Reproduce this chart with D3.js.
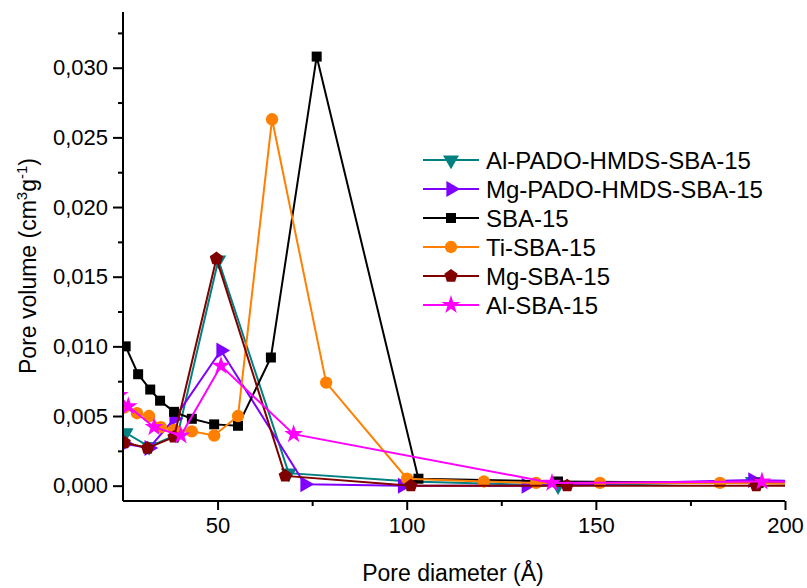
<!DOCTYPE html>
<html>
<head>
<meta charset="utf-8">
<script src="https://cdn.jsdelivr.net/npm/d3@7"></script>
<style>
  body { margin: 0; background: #fff; }
  svg { font-family: "Liberation Sans", Arial, sans-serif; }
</style>
</head>
<body>
<svg width="807" height="588"></svg>
<script>
// pore diameter (Å) / pore volume (cm3 g-1)
const alPadoX = [25.7, 31.9, 39.5, 50.2, 68.8, 101, 140, 191.5, 230];
const alPadoY = [0.0038, 0.0028, 0.0037, 0.0162, 0.0009, 0.0003, 0.0000, 0.0003, 0.0002];

const mgPadoX = [25.5, 31.9, 38.5, 50.9, 73.1, 98.9, 131.6, 191.5, 230];
const mgPadoY = [0.0030, 0.0027, 0.0048, 0.0097, 0.0001, 0.0000, 0.0000, 0.0004, 0.0002];

const sbaX = [25.7, 29.0, 32.2, 34.8, 38.5, 43.2, 49.1, 55.4, 64.1, 76.2, 103.1, 140, 193, 230];
const sbaY = [0.0100, 0.0080, 0.0069, 0.0061, 0.0053, 0.0048, 0.0044, 0.0043, 0.0092, 0.0308, 0.0005, 0.0003, 0.0002, 0.0001];

const tiX = [25.3, 28.7, 31.9, 35.0, 38.5, 43.2, 49.1, 55.4, 64.4, 78.7, 100.1, 120.4, 134.2, 151.1, 182.8, 230];
const tiY = [0.0056, 0.0052, 0.0050, 0.0042, 0.0040, 0.0039, 0.0036, 0.0050, 0.0263, 0.0074, 0.0005, 0.0003, 0.0002, 0.0002, 0.0002, 0.0001];

const mgX = [25.3, 31.5, 38.5, 49.7, 67.9, 101.1, 142.4, 192.4, 230];
const mgY = [0.0031, 0.0027, 0.0035, 0.0163, 0.0007, 0.0000, 0.0000, 0.0000, 0.0000];

const alX = [24, 26.4, 33.2, 40.3, 50.9, 70.1, 138.4, 193.9, 230];
const alY = [0.0065, 0.0057, 0.0042, 0.0036, 0.0086, 0.0037, 0.0002, 0.0003, 0.0002];

const seriesNames = ["Al-PADO-HMDS-SBA-15", "Mg-PADO-HMDS-SBA-15", "SBA-15", "Ti-SBA-15", "Mg-SBA-15", "Al-SBA-15"];
const seriesColors = ["#008080", "#8000ff", "#000000", "#ff8000", "#800000", "#ff00ff"];
const seriesXs = [alPadoX, mgPadoX, sbaX, tiX, mgX, alX];
const seriesYs = [alPadoY, mgPadoY, sbaY, tiY, mgY, alY];

const xTicks = [50, 100, 150, 200];
const yTicks = [0, 0.005, 0.010, 0.015, 0.020, 0.025, 0.030];

const svg = d3.select("svg");
const mLeft = 123, mRight = 785, mTop = 12, mBottom = 501;

const x = d3.scaleLinear().domain([25, 200]).range([mLeft, mRight]);
const y = d3.scaleLinear().domain([-0.0011, 0.0340]).range([mBottom, mTop]);

// symbols
const tri = d3.symbol().type(d3.symbolTriangle).size(110);
function markerPath(i) {
  if (i === 0) return tri();
  if (i === 1) return tri();
  if (i === 2) return d3.symbol().type(d3.symbolSquare).size(100)();
  if (i === 3) return d3.symbol().type(d3.symbolCircle).size(120)();
  if (i === 4) {
    const r = 7;
    return d3.range(5).map(k => {
      const a = -Math.PI / 2 + k * 2 * Math.PI / 5;
      return (k ? "L" : "M") + (r * Math.cos(a)).toFixed(2) + "," + (r * Math.sin(a)).toFixed(2);
    }).join("") + "Z";
  }
  return d3.symbol().type(d3.symbolStar).size(110)();
}
function markerRot(i) {
  if (i === 0) return 180;
  if (i === 1) return 90;
  return 0;
}

svg.append("clipPath").attr("id", "clip")
  .append("rect").attr("x", mLeft).attr("y", mTop).attr("width", mRight - mLeft).attr("height", mBottom - mTop);

const plot = svg.append("g").attr("clip-path", "url(#clip)");
const line = d3.line().x(d => x(d[0])).y(d => y(d[1]));

seriesNames.forEach((name, i) => {
  const pts = seriesXs[i].map((v, k) => [v, seriesYs[i][k]]);
  const g = plot.append("g");
  g.append("path").datum(pts)
    .attr("d", line).attr("fill", "none")
    .attr("stroke", seriesColors[i]).attr("stroke-width", 2);
  g.selectAll("path.m").data(pts).enter().append("path")
    .attr("class", "m")
    .attr("d", markerPath(i))
    .attr("transform", d => `translate(${x(d[0])},${y(d[1])}) rotate(${markerRot(i)})`)
    .attr("fill", seriesColors[i]);
});

// axes
const fmt = d => d3.format(".3f")(d).replace(".", ",");
const xAxis = svg.append("g").attr("transform", `translate(0,${mBottom})`)
  .call(d3.axisBottom(x).tickValues(xTicks).tickSize(9).tickPadding(7));
svg.append("g").attr("transform", `translate(0,${mBottom})`)
  .call(d3.axisBottom(x).tickValues([75, 125, 175]).tickSize(5).tickFormat(""))
  .select(".domain").remove();

const yAxis = svg.append("g").attr("transform", `translate(${mLeft},0)`)
  .call(d3.axisLeft(y).tickValues(yTicks).tickSize(10).tickPadding(5).tickFormat(fmt));
svg.append("g").attr("transform", `translate(${mLeft},0)`)
  .call(d3.axisLeft(y).tickValues([0.0025, 0.0075, 0.0125, 0.0175, 0.0225, 0.0275, 0.0325]).tickSize(5).tickFormat(""))
  .select(".domain").remove();

svg.selectAll(".domain").attr("stroke-width", 2);
svg.selectAll(".tick line").attr("stroke-width", 2);
svg.selectAll(".tick text").attr("font-size", 22).attr("fill", "#000")
  .attr("font-family", "Liberation Sans, Arial, sans-serif");
xAxis.selectAll(".domain").attr("d", `M${mLeft},0H${mRight}`);
yAxis.selectAll(".domain").attr("d", `M0,${mBottom}V${mTop}`);

// axis titles
svg.append("text").attr("x", 453).attr("y", 581).attr("text-anchor", "middle")
  .attr("font-size", 23).text("Pore diameter (Å)");

const yl = svg.append("text").attr("transform", "translate(36,266) rotate(-90)")
  .attr("text-anchor", "middle").attr("font-size", 23);
yl.append("tspan").text("Pore volume (cm");
yl.append("tspan").attr("dy", -9).attr("font-size", 15).text("3");
yl.append("tspan").attr("dy", 9).text("g");
yl.append("tspan").attr("dy", -9).attr("font-size", 15).text("-1");
yl.append("tspan").attr("dy", 9).text(")");

// legend
const legend = svg.append("g").attr("transform", "translate(423,160)");
seriesNames.forEach((name, i) => {
  const row = legend.append("g").attr("transform", `translate(0,${i * 29})`);
  row.append("line").attr("x1", 0).attr("x2", 56).attr("y1", 0).attr("y2", 0)
    .attr("stroke", seriesColors[i]).attr("stroke-width", 2);
  row.append("path").attr("d", markerPath(i))
    .attr("transform", `translate(28,0) rotate(${markerRot(i)})`)
    .attr("fill", seriesColors[i]);
  row.append("text").attr("x", 63).attr("y", 8.5).attr("font-size", 24).text(name);
});
</script>
</body>
</html>
